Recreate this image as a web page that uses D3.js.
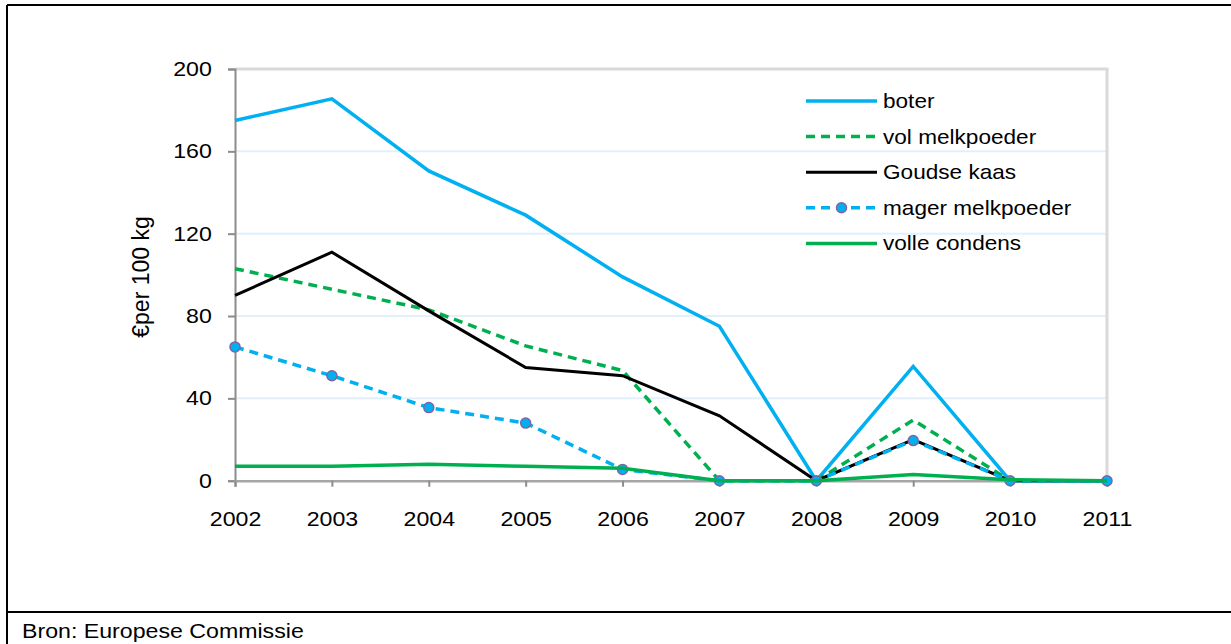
<!DOCTYPE html>
<html>
<head>
<meta charset="utf-8">
<script src="https://cdn.jsdelivr.net/npm/d3@7"></script>
<style>
  body { margin: 0; background: #fff; }
  text { font-family: "Liberation Sans", Arial, sans-serif; fill: #000; }
</style>
</head>
<body>
<div id="chart"></div>
<script>
const years = ['2002','2003','2004','2005','2006','2007','2008','2009','2010','2011'];
const yTicks = [0, 40, 80, 120, 160, 200];

const boter = [175, 185.5, 150.5, 129, 99, 75, 0, 55.5, 0, 0];
const volMelkpoeder = [103, 93, 83, 65.5, 53.5, 0, 0, 29.5, 0, 0];
const goudseKaas = [90, 111, 82.5, 55, 51, 31.5, 0, 20, 0, 0];
const magerMelkpoeder = [65, 51, 35.5, 28, 5.5, 0, 0, 19.5, 0, 0];
const volleCondens = [7, 7, 8, 7, 6, 0, 0, 3, 0.5, 0];

const series = [
  { name: 'boter', values: boter, color: '#00b0f0', dash: null, width: 3.5, marker: false },
  { name: 'vol melkpoeder', values: volMelkpoeder, color: '#00b050', dash: '9,6', width: 3.5, marker: false },
  { name: 'Goudse kaas', values: goudseKaas, color: '#000000', dash: null, width: 3, marker: false },
  { name: 'mager melkpoeder', values: magerMelkpoeder, color: '#00b0f0', dash: '9,6', width: 3.5, marker: true },
  { name: 'volle condens', values: volleCondens, color: '#00b050', dash: null, width: 3.5, marker: false }
];

const W = 1231, H = 644;
const SX = 1.13; // horizontal text stretch of the original

const svg = d3.select('#chart').append('svg')
  .attr('width', W)
  .attr('height', H);

// outer frame
svg.append('line').attr('x1', 7).attr('x2', 7).attr('y1', 5).attr('y2', H)
  .attr('stroke', '#000').attr('stroke-width', 2);
svg.append('line').attr('x1', 7).attr('x2', W).attr('y1', 5).attr('y2', 5)
  .attr('stroke', '#000').attr('stroke-width', 2);
svg.append('line').attr('x1', 7).attr('x2', W).attr('y1', 612).attr('y2', 612)
  .attr('stroke', '#000').attr('stroke-width', 2);

const x = d3.scalePoint().domain(years).range([235, 1107]);
const y = d3.scaleLinear().domain([0, 200]).range([480.7, 69]);

// gridlines
svg.append('g')
  .selectAll('line')
  .data(yTicks.filter(d => d > 0 && d < 200))
  .join('line')
    .attr('x1', x.range()[0])
    .attr('x2', x.range()[1])
    .attr('y1', d => y(d))
    .attr('y2', d => y(d))
    .attr('stroke', '#e3f0fb')
    .attr('stroke-width', 2);

// plot frame top and right
svg.append('line')
  .attr('x1', x.range()[0]).attr('x2', x.range()[1] + 1.5)
  .attr('y1', y(200)).attr('y2', y(200))
  .attr('stroke', '#d9d9d9').attr('stroke-width', 3);
svg.append('line')
  .attr('x1', x.range()[1]).attr('x2', x.range()[1])
  .attr('y1', y(200)).attr('y2', y(0))
  .attr('stroke', '#d9d9d9').attr('stroke-width', 3);

// axes
const yAxis = svg.append('g')
  .attr('transform', `translate(${x.range()[0]},0)`)
  .call(d3.axisLeft(y).tickValues(yTicks).tickSize(7).tickPadding(13.5));
const xAxis = svg.append('g')
  .attr('transform', `translate(0,${y(0)})`)
  .call(d3.axisBottom(x).tickSize(6).tickPadding(25));

[yAxis, xAxis].forEach(g => {
  g.select('.domain').attr('stroke', '#8c8c8c').attr('stroke-width', 2);
  g.selectAll('.tick line').attr('stroke', '#8c8c8c').attr('stroke-width', 2);
  g.selectAll('.tick text')
    .attr('font-size', 20.5)
    .attr('font-family', '"Liberation Sans", Arial, sans-serif')
    .attr('fill', '#000')
    .attr('transform', `scale(${SX},1)`);
});
xAxis.select('.domain').attr('stroke', '#a6a6a6').attr('stroke-width', 2.5);

// y title
svg.append('text')
  .attr('transform', 'translate(149,277) rotate(-90)')
  .attr('text-anchor', 'middle')
  .attr('font-size', 23)
  .text('€per 100 kg');

// lines
const line = d3.line()
  .x((d, i) => x(years[i]))
  .y(d => y(d));

series.forEach(s => {
  svg.append('path')
    .datum(s.values)
    .attr('d', line)
    .attr('fill', 'none')
    .attr('stroke', s.color)
    .attr('stroke-width', s.width)
    .attr('stroke-dasharray', s.dash)
    .attr('stroke-linejoin', 'miter');
  if (s.marker) {
    svg.append('g')
      .selectAll('circle')
      .data(s.values)
      .join('circle')
        .attr('cx', (d, i) => x(years[i]))
        .attr('cy', d => y(d))
        .attr('r', 5)
        .attr('fill', '#00b0f0')
        .attr('stroke', '#8064a2')
        .attr('stroke-width', 1.5);
  }
});

// legend
const legend = svg.append('g');
const lx0 = 806, lx1 = 877, ly0 = 101, lstep = 35.6;
series.forEach((s, i) => {
  const ly = ly0 + i * lstep;
  legend.append('line')
    .attr('x1', lx0).attr('x2', lx1)
    .attr('y1', ly).attr('y2', ly)
    .attr('stroke', s.color)
    .attr('stroke-width', s.width)
    .attr('stroke-dasharray', s.dash);
  if (s.marker) {
    legend.append('circle')
      .attr('cx', (lx0 + lx1) / 2).attr('cy', ly).attr('r', 5)
      .attr('fill', '#00b0f0').attr('stroke', '#8064a2').attr('stroke-width', 1.5);
  }
  legend.append('text')
    .attr('transform', `translate(883,${ly + 7}) scale(${SX},1)`)
    .attr('font-size', 20)
    .text(s.name);
});

// source
svg.append('text')
  .attr('transform', `translate(22,638) scale(${SX},1)`)
  .attr('font-size', 20.5)
  .text('Bron: Europese Commissie');
</script>
</body>
</html>
